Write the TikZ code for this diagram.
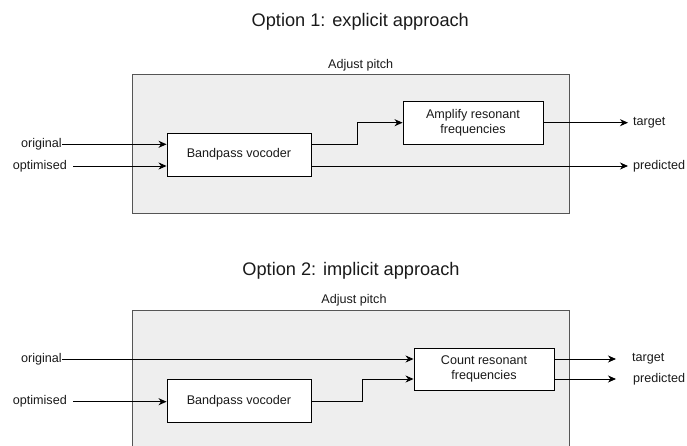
\documentclass[tikz,border=0pt]{standalone}
\usepackage{fontspec}
\setmainfont{Liberation Sans}
\usetikzlibrary{arrows.meta}
\definecolor{panelfill}{HTML}{EEEEEE}
\definecolor{panelline}{HTML}{555555}
\definecolor{txt}{HTML}{1A1A1A}
\tikzset{
  panel/.style={draw=panelline, fill=panelfill, line width=0.9pt},
  block/.style={draw=black, fill=white, line width=0.9pt, align=center, inner sep=0pt, text=txt, font=\fontsize{12.6}{15}\selectfont},
  lbl/.style={inner sep=0pt, text=txt, font=\fontsize{12.6}{15}\selectfont},
  ttl/.style={inner sep=0pt, text=txt, font=\fontsize{18.2}{22}\selectfont},
  conn/.style={line width=0.9pt, draw=black},
  arr/.style={conn, -{Stealth[length=8pt,width=7pt,inset=2.5pt]}}
}
\begin{document}
\begin{tikzpicture}[x=1pt,y=-1pt]
\useasboundingbox (0,0) rectangle (687,446);
\begin{scope}
\clip (0,0) rectangle (687,446);
% ---------- Option 1 ----------
\node[ttl] (t1) at (360.3,21.7) {Option 1: explicit approach};
\draw[panel] (132,74) rectangle (569,213);
\node[lbl] (ap1) at (360.7,65) {Adjust pitch};
\node[block, minimum width=144pt, minimum height=43pt] (bp1) at (239,154.5) {Bandpass vocoder};
\node[block, minimum width=140pt, minimum height=43pt] (amp) at (473,122.7) {Amplify resonant\\frequencies};
\node[lbl, anchor=east] (or1) at (62,144.3) {original};
\node[lbl, anchor=east] (op1) at (67,166) {optimised};
\node[lbl, anchor=west] (tg1) at (633,122.7) {target};
\node[lbl, anchor=west] (pr1) at (633,166) {predicted};
\coordinate (j1) at (357,0);
\draw[arr] (or1.east) -- (bp1.west |- or1.east);
\draw[arr] ([xshift=6pt]op1.east) -- (bp1.west |- op1.east);
\draw[arr] (bp1.east |- or1.east) -| (j1 |- amp.west) -- (amp.west);
\draw[arr] (amp.east) -- ([xshift=-5pt]tg1.west);
\draw[arr] (bp1.east |- op1.east) -- ([xshift=-5pt]pr1.west);
% ---------- Option 2 ----------
\node[ttl] (t2) at (351,270.7) {Option 2: implicit approach};
\draw[panel] (132,310) rectangle (569,452);
\node[lbl] (ap2) at (354,300) {Adjust pitch};
\node[block, minimum width=144pt, minimum height=43pt] (bp2) at (239,401) {Bandpass vocoder};
\node[block, minimum width=140pt, minimum height=42pt] (cnt) at (484,369) {Count resonant\\frequencies};
\node[lbl, anchor=east] (or2) at (62,359) {original};
\node[lbl, anchor=east] (op2) at (67,401.7) {optimised};
\node[lbl, anchor=west] (tg2) at (632,359) {target};
\node[lbl, anchor=west] (pr2) at (633,379) {predicted};
\coordinate (j2) at (362.3,379);
\draw[arr] (or2.east) -- (cnt.west |- or2.east);
\draw[arr] ([xshift=6pt]op2.east) -- (bp2.west |- op2.east);
\draw[arr] (bp2.east |- op2.east) -| (j2) -- (cnt.west |- j2);
\draw[arr] (cnt.east |- tg2.west) -- ([xshift=-16pt]tg2.west);
\draw[arr] (cnt.east |- pr2.west) -- ([xshift=-17pt]pr2.west);
\end{scope}
\end{tikzpicture}
\end{document}
